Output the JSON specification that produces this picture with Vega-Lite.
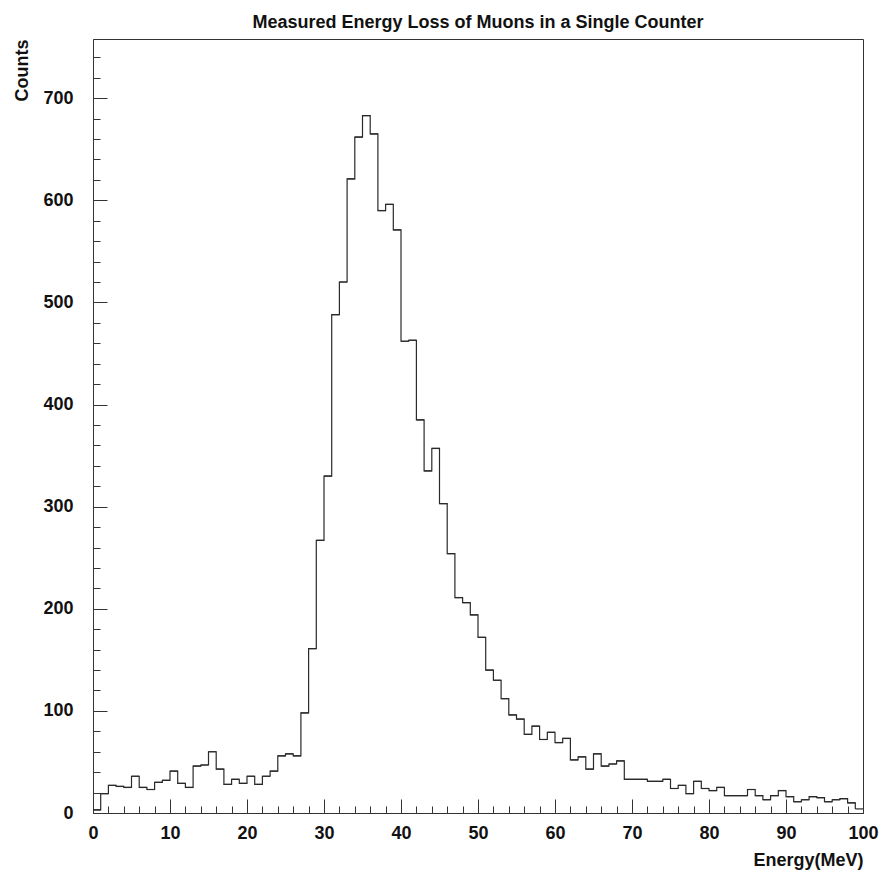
{
  "$schema": "https://vega.github.io/schema/vega-lite/v6.json",
  "width": 770,
  "height": 774,
  "autosize": {"type": "none"},
  "padding": {"left": 93, "top": 39, "right": 20, "bottom": 61},
  "background": "white",
  "title": {
    "text": "Measured Energy Loss of Muons in a Single Counter",
    "font": "Liberation Sans",
    "fontSize": 18,
    "fontWeight": "bold",
    "color": "#111",
    "anchor": "middle",
    "frame": "group",
    "baseline": "alphabetic",
    "offset": 11,
    "dy": 18
  },
  "config": {
    "view": {"stroke": "#333", "strokeWidth": 1},
    "axis": {
      "grid": false,
      "domainColor": "#333",
      "tickColor": "#333",
      "labelFont": "Liberation Sans",
      "labelFontSize": 18,
      "labelFontWeight": "bold",
      "labelColor": "#111",
      "labelFlush": false,
      "labelOverlap": false,
      "titleFont": "Liberation Sans",
      "titleFontSize": 18,
      "titleFontWeight": "bold",
      "titleColor": "#111"
    }
  },
  "resolve": {"axis": {"x": "independent", "y": "independent"}},
  "data": {
    "values": [
      {"lo": 0, "hi": 1, "count": 3}, {"lo": 1, "hi": 2, "count": 19}, {"lo": 2, "hi": 3, "count": 27}, {"lo": 3, "hi": 4, "count": 26}, {"lo": 4, "hi": 5, "count": 25},
      {"lo": 5, "hi": 6, "count": 36}, {"lo": 6, "hi": 7, "count": 25}, {"lo": 7, "hi": 8, "count": 23}, {"lo": 8, "hi": 9, "count": 30}, {"lo": 9, "hi": 10, "count": 32},
      {"lo": 10, "hi": 11, "count": 41}, {"lo": 11, "hi": 12, "count": 29}, {"lo": 12, "hi": 13, "count": 25}, {"lo": 13, "hi": 14, "count": 46}, {"lo": 14, "hi": 15, "count": 47},
      {"lo": 15, "hi": 16, "count": 60}, {"lo": 16, "hi": 17, "count": 43}, {"lo": 17, "hi": 18, "count": 28}, {"lo": 18, "hi": 19, "count": 33}, {"lo": 19, "hi": 20, "count": 29},
      {"lo": 20, "hi": 21, "count": 36}, {"lo": 21, "hi": 22, "count": 28}, {"lo": 22, "hi": 23, "count": 36}, {"lo": 23, "hi": 24, "count": 41}, {"lo": 24, "hi": 25, "count": 56},
      {"lo": 25, "hi": 26, "count": 58}, {"lo": 26, "hi": 27, "count": 56}, {"lo": 27, "hi": 28, "count": 98}, {"lo": 28, "hi": 29, "count": 161}, {"lo": 29, "hi": 30, "count": 267},
      {"lo": 30, "hi": 31, "count": 330}, {"lo": 31, "hi": 32, "count": 488}, {"lo": 32, "hi": 33, "count": 520}, {"lo": 33, "hi": 34, "count": 621}, {"lo": 34, "hi": 35, "count": 662},
      {"lo": 35, "hi": 36, "count": 683}, {"lo": 36, "hi": 37, "count": 665}, {"lo": 37, "hi": 38, "count": 590}, {"lo": 38, "hi": 39, "count": 596}, {"lo": 39, "hi": 40, "count": 571},
      {"lo": 40, "hi": 41, "count": 462}, {"lo": 41, "hi": 42, "count": 463}, {"lo": 42, "hi": 43, "count": 385}, {"lo": 43, "hi": 44, "count": 335}, {"lo": 44, "hi": 45, "count": 357},
      {"lo": 45, "hi": 46, "count": 303}, {"lo": 46, "hi": 47, "count": 254}, {"lo": 47, "hi": 48, "count": 211}, {"lo": 48, "hi": 49, "count": 206}, {"lo": 49, "hi": 50, "count": 194},
      {"lo": 50, "hi": 51, "count": 172}, {"lo": 51, "hi": 52, "count": 140}, {"lo": 52, "hi": 53, "count": 130}, {"lo": 53, "hi": 54, "count": 112}, {"lo": 54, "hi": 55, "count": 96},
      {"lo": 55, "hi": 56, "count": 92}, {"lo": 56, "hi": 57, "count": 77}, {"lo": 57, "hi": 58, "count": 85}, {"lo": 58, "hi": 59, "count": 72}, {"lo": 59, "hi": 60, "count": 79},
      {"lo": 60, "hi": 61, "count": 69}, {"lo": 61, "hi": 62, "count": 73}, {"lo": 62, "hi": 63, "count": 52}, {"lo": 63, "hi": 64, "count": 55}, {"lo": 64, "hi": 65, "count": 43},
      {"lo": 65, "hi": 66, "count": 58}, {"lo": 66, "hi": 67, "count": 46}, {"lo": 67, "hi": 68, "count": 48}, {"lo": 68, "hi": 69, "count": 51}, {"lo": 69, "hi": 70, "count": 33},
      {"lo": 70, "hi": 71, "count": 33}, {"lo": 71, "hi": 72, "count": 33}, {"lo": 72, "hi": 73, "count": 31}, {"lo": 73, "hi": 74, "count": 31}, {"lo": 74, "hi": 75, "count": 33},
      {"lo": 75, "hi": 76, "count": 24}, {"lo": 76, "hi": 77, "count": 27}, {"lo": 77, "hi": 78, "count": 19}, {"lo": 78, "hi": 79, "count": 31}, {"lo": 79, "hi": 80, "count": 24},
      {"lo": 80, "hi": 81, "count": 22}, {"lo": 81, "hi": 82, "count": 25}, {"lo": 82, "hi": 83, "count": 17}, {"lo": 83, "hi": 84, "count": 17}, {"lo": 84, "hi": 85, "count": 17},
      {"lo": 85, "hi": 86, "count": 23}, {"lo": 86, "hi": 87, "count": 17}, {"lo": 87, "hi": 88, "count": 13}, {"lo": 88, "hi": 89, "count": 17}, {"lo": 89, "hi": 90, "count": 22},
      {"lo": 90, "hi": 91, "count": 16}, {"lo": 91, "hi": 92, "count": 11}, {"lo": 92, "hi": 93, "count": 13}, {"lo": 93, "hi": 94, "count": 16}, {"lo": 94, "hi": 95, "count": 15},
      {"lo": 95, "hi": 96, "count": 11}, {"lo": 96, "hi": 97, "count": 13}, {"lo": 97, "hi": 98, "count": 14}, {"lo": 98, "hi": 99, "count": 10}, {"lo": 99, "hi": 100, "count": 4}
    ]
  },
  "layer": [
    {
      "mark": {"type": "line", "interpolate": "step-after", "color": "#2a2a2a", "strokeWidth": 1.2},
      "encoding": {
        "x": {
          "field": "lo",
          "type": "quantitative",
          "scale": {"domain": [0, 100], "nice": false, "zero": false},
          "axis": {
            "orient": "bottom",
            "values": [0, 10, 20, 30, 40, 50, 60, 70, 80, 90, 100],
            "tickSize": -14,
            "labelPadding": 25,
            "labelOverlap": false,
            "title": "Energy(MeV)",
            "titleAnchor": "end",
            "titleAlign": "right",
            "titleBaseline": "alphabetic",
            "titleX": 770,
            "titleY": 52
          }
        },
        "y": {
          "field": "count",
          "type": "quantitative",
          "scale": {"domain": [0, 758], "nice": false},
          "axis": {
            "orient": "left",
            "values": [0, 100, 200, 300, 400, 500, 600, 700],
            "tickSize": -14,
            "labelPadding": 34,
            "labelOverlap": false,
            "title": "Counts",
            "titleAngle": -90,
            "titleAlign": "right",
            "titleBaseline": "alphabetic",
            "titleX": -66,
            "titleY": 0
          }
        }
      }
    },
    {
      "mark": {"type": "rule", "color": "#2a2a2a", "strokeWidth": 1.2},
      "encoding": {
        "x": {
          "field": "lo",
          "type": "quantitative",
          "axis": {
            "orient": "bottom",
            "values": [0, 2, 4, 6, 8, 10, 12, 14, 16, 18, 20, 22, 24, 26, 28, 30, 32, 34, 36, 38, 40, 42, 44, 46, 48, 50, 52, 54, 56, 58, 60, 62, 64, 66, 68, 70, 72, 74, 76, 78, 80, 82, 84, 86, 88, 90, 92, 94, 96, 98, 100],
            "tickSize": -7,
            "labels": false,
            "domain": false,
            "title": null
          }
        },
        "x2": {"field": "hi"},
        "y": {
          "field": "count",
          "type": "quantitative",
          "axis": {
            "orient": "left",
            "values": [0, 20, 40, 60, 80, 100, 120, 140, 160, 180, 200, 220, 240, 260, 280, 300, 320, 340, 360, 380, 400, 420, 440, 460, 480, 500, 520, 540, 560, 580, 600, 620, 640, 660, 680, 700, 720, 740],
            "tickSize": -7,
            "labels": false,
            "domain": false,
            "title": null
          }
        }
      }
    }
  ]
}
